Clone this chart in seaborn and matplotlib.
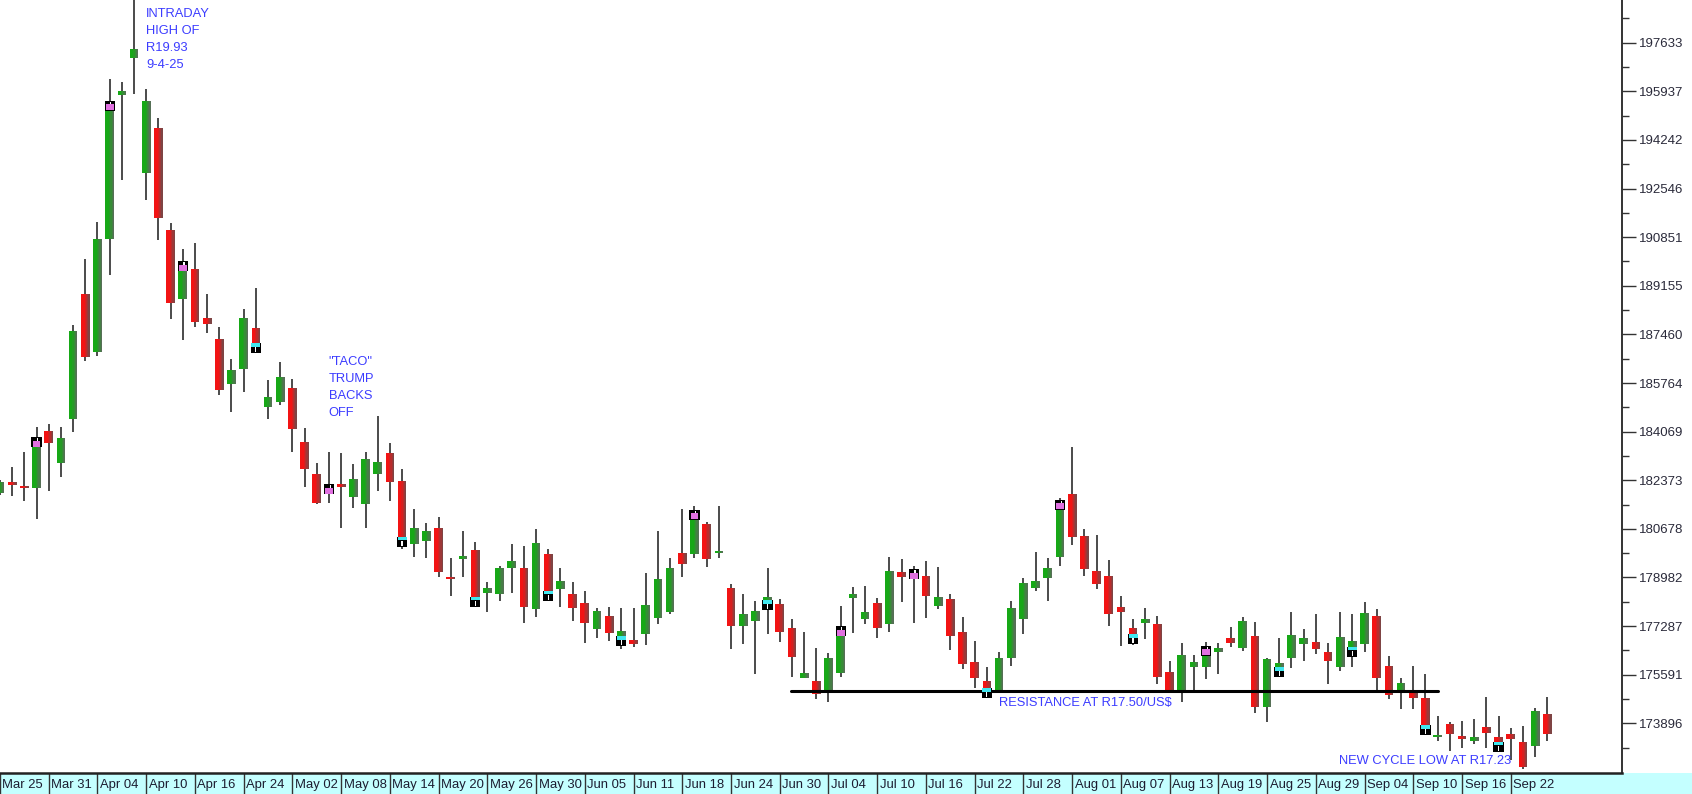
import numpy as np
import matplotlib
matplotlib.use("Agg")
import matplotlib.pyplot as plt
import matplotlib.transforms as mtransforms
from matplotlib.patches import Rectangle
import seaborn as sns

# ---------------- data (USD/ZAR x 10000) ----------------
opens = [181916, 182300, 182172, 182091, 184102, 182986, 184498, 188858, 186856, 190786,
         195809, 197110, 193088, 194647, 191111, 188694, 189730, 188021, 187288, 185729,
         186252, 187672, 184938, 185112, 185590, 183707, 182579, 181916, 182242, 181800,
         181533, 182579, 183311, 182346, 180149, 180265, 180695, 178986, 179614, 179940,
         178428, 178405, 179324, 179300, 177870, 179789, 178579, 178393, 178080, 177173,
         177649, 176940, 176801, 176998, 177556, 177766, 179823, 179800, 180835, 179835,
         178603, 177301, 177475, 178196, 178045, 177208, 175487, 175371, 175034, 175638,
         178277, 177522, 178080, 177347, 179161, 178917, 179033, 177998, 178219, 177068,
         176022, 175371, 175034, 176161, 177522, 178603, 178952, 179707, 181881, 180428,
         179207, 179045, 177940, 177208, 177405, 177347, 175673, 175034, 175871, 175871,
         176371, 176859, 176533, 176940, 174476, 175847, 176185, 176650, 176719, 176371,
         175871, 176568, 176650, 177638, 175905, 174964, 175022, 174766, 173429, 173859,
         173452, 173290, 173755, 173406, 173511, 173232, 173115, 174208]
highs = [182381, 182823, 183369, 184218, 184323, 184230, 187776, 190078, 191390, 196356,
         196273, 199300, 196007, 195007, 191334, 190427, 190636, 188858, 187717, 186591,
         188335, 189077, 185858, 186497, 185893, 184183, 182962, 183369, 183311, 182928,
         183369, 184625, 183683, 182753, 181358, 180870, 181102, 179649, 180614, 180207,
         178824, 179393, 180137, 180079, 180661, 179963, 179300, 178824, 178521, 177905,
         177940, 177905, 177905, 179126, 180614, 179649, 181358, 181474, 180900, 181486,
         178742, 178393, 178173, 179300, 178219, 177522, 177068, 176510, 176336, 177987,
         178638, 178696, 178254, 179684, 179614, 179382, 179556, 179335, 178393, 177591,
         176766, 175847, 176371, 178173, 178975, 179858, 179649, 181742, 183521, 180661,
         180463, 179591, 178335, 177522, 177905, 177638, 176068, 176684, 176278, 176719,
         176684, 177243, 177591, 177417, 176161, 176859, 177766, 177173, 177696, 176684,
         177766, 177696, 178114, 177870, 176243, 175464, 175905, 175603, 174162, 173952,
         173987, 174034, 174801, 174162, 173720, 173813, 174417, 174801]
lows = [181858, 181835, 181660, 181009, 182009, 182497, 184066, 186542, 186716, 189520,
        192834, 195833, 192136, 190741, 187996, 187264, 187728, 187518, 185346, 184763,
        185461, 186856, 184509, 184997, 183368, 182149, 181544, 181567, 180719, 181393,
        180719, 182009, 181660, 179963, 179707, 179649, 179010, 178335, 178986, 177998,
        177777, 178173, 178428, 177382, 177591, 178254, 177952, 177475, 176684, 176859,
        176777, 176475, 176568, 176626, 177347, 177696, 179010, 179649, 179358, 179649,
        176475, 176650, 175603, 176998, 176743, 175522, 175487, 174743, 174650, 175522,
        177033, 177347, 176859, 177068, 178138, 177382, 177556, 177870, 176452, 175778,
        175115, 174882, 174941, 175905, 176998, 178521, 178173, 179393, 180114, 179045,
        178568, 177301, 176603, 176626, 176824, 175254, 174941, 174650, 175034, 175429,
        175603, 176568, 176429, 174266, 173952, 175603, 175836, 176080, 176301, 175254,
        175731, 175871, 176394, 175034, 174731, 174383, 174383, 173545, 173290, 172941,
        173022, 173162, 173022, 172987, 172615, 172300, 172732, 173290]
closes = [182323, 182207, 182114, 183834, 183672, 183834, 187578, 186681, 190776, 195575,
          195959, 197403, 195610, 191529, 188565, 189984, 187902, 187822, 185520, 186218,
          188021, 187149, 185286, 185973, 184149, 182753, 181567, 182207, 182149, 182404,
          183102, 183021, 182323, 180405, 180695, 180602, 179172, 178917, 179742, 178312,
          178603, 179300, 179568, 177952, 180172, 178521, 178858, 177905, 177382, 177824,
          177033, 177126, 176661, 178021, 178917, 179300, 179440, 181312, 179614, 179905,
          177301, 177696, 177824, 178312, 177091, 176219, 175638, 174917, 176161, 177242,
          178393, 177766, 177208, 179219, 179010, 179242, 178347, 178289, 176952, 175952,
          175487, 175115, 176161, 177905, 178777, 178858, 179300, 181660, 180405, 179265,
          178742, 177696, 177789, 177010, 177522, 175522, 174999, 176278, 176022, 176568,
          176510, 176708, 177475, 174476, 176126, 175987, 176975, 176859, 176487, 176080,
          176894, 176766, 177731, 175487, 174882, 175289, 174766, 173836, 173499, 173522,
          173348, 173406, 173569, 173255, 173336, 172360, 174324, 173511]

date_labels = ["Mar 25", "Mar 31", "Apr 04", "Apr 10", "Apr 16", "Apr 24", "May 02", "May 08",
               "May 14", "May 20", "May 26", "May 30", "Jun 05", "Jun 11", "Jun 18", "Jun 24",
               "Jun 30", "Jul 04", "Jul 10", "Jul 16", "Jul 22", "Jul 28", "Aug 01", "Aug 07",
               "Aug 13", "Aug 19", "Aug 25", "Aug 29", "Sep 04", "Sep 10", "Sep 16", "Sep 22"]

y_ticks = [173896, 175591, 177287, 178982, 180678, 182373, 184069, 185764,
           187460, 189155, 190851, 192546, 194242, 195937, 197633]

top_marker_idx = [3, 9, 15, 27, 57, 69, 75, 87, 99]
bottom_marker_idx = [21, 33, 39, 45, 51, 63, 81, 93, 105, 111, 117, 123]

resistance_level = 175032
annotations = [
    ("INTRADAY\nHIGH OF\nR19.93\n9-4-25", 12.0, 198850, "top"),
    ('"TACO"\nTRUMP\nBACKS\nOFF', 26.98, 186700, "top"),
    ("RESISTANCE AT R17.50/US$", 81.97, 174614, "center"),
    ("NEW CYCLE LOW AT R17.23", 109.94, 172581, "center"),
]

# ---------------- styling ----------------
sns.set_theme(style="white")
plt.rcParams['font.family'] = ['Liberation Sans', 'DejaVu Sans']

W, H = 1692, 794
fig = plt.figure(figsize=(W / 100, H / 100), dpi=100)
ax = fig.add_axes([0, 21 / H, 1622 / W, 773 / H])

o = np.array(opens, float)
h = np.array(highs, float)
l = np.array(lows, float)
c = np.array(closes, float)
n = len(o)
idx = np.arange(n)

ymin, ymax = 172163, 199122
ax.set_xlim(0.1, 133.13)
ax.set_ylim(ymin, ymax)
upp = (ymax - ymin) / 773.0  # value units per pixel

# wicks
ax.vlines(idx, l, h, color="#1a1a1a", lw=1.1, zorder=1)

# bodies with horizontal gradient
up = c >= o
body_bot = np.minimum(o, c)
body_top = np.maximum(o, c)
body_h = np.maximum(body_top - body_bot, 2.2 * upp)
body_bot = np.where(body_top - body_bot < 2.2 * upp, (o + c) / 2 - 1.1 * upp, body_bot)

bw = 0.71
nstrip = 7
green = np.array([0.09, 0.66, 0.09])
red = np.array([0.95, 0.08, 0.08])
g_end = np.array([0.38, 0.40, 0.38])
r_end = np.array([0.42, 0.30, 0.30])
for k in range(nstrip):
    t = k / (nstrip - 1)
    t = max(0.0, (t - 0.35) / 0.65) * 0.85
    gc = green * (1 - t) + g_end * t
    rc = red * (1 - t) + r_end * t
    cols = [tuple(gc) if u else tuple(rc) for u in up]
    ax.bar(idx - bw / 2 + k * bw / nstrip, body_h, width=bw / nstrip + 0.005,
           bottom=body_bot, align="edge", color=cols, linewidth=0, zorder=2)

# signal markers
mw = 0.84
for i in top_marker_idx:
    top = body_top[i]
    ax.add_patch(Rectangle((i - mw / 2, top - 9 * upp), mw, 10 * upp, facecolor="black",
                           linewidth=0, zorder=4))
    ax.add_patch(Rectangle((i - mw / 2 + 0.1, top - 8.5 * upp), mw - 0.2, 6 * upp,
                           facecolor="#e070e0", linewidth=0, zorder=5))
    ax.add_patch(Rectangle((i + 0.05, top - 2.5 * upp), 0.1, 2.5 * upp,
                           facecolor="white", linewidth=0, zorder=5))
for i in bottom_marker_idx:
    bot = body_bot[i]
    ax.add_patch(Rectangle((i - mw / 2, bot - 10 * upp), mw, 10 * upp, facecolor="black",
                           linewidth=0, zorder=4))
    ax.add_patch(Rectangle((i - mw / 2 + 0.05, bot - 3.5 * upp), mw - 0.1, 3.5 * upp,
                           facecolor="#40e8f0", linewidth=0, zorder=5))
    ax.add_patch(Rectangle((i - 0.05, bot - 9 * upp), 0.1, 5 * upp,
                           facecolor="white", linewidth=0, zorder=5))

# resistance line
sns.lineplot(x=[64.9, 118.0], y=[resistance_level, resistance_level], ax=ax,
             color="black", lw=2.2, zorder=3)

# annotations
for txt, x, y, va in annotations:
    ax.text(x, y, txt, color="#3c3cff", fontsize=9.3, va=va, ha="left",
            linespacing=1.56, zorder=6)

# y axis on right
ax.yaxis.tick_right()
ax.set_yticks(y_ticks)
ax.set_yticklabels([str(v) for v in y_ticks])
mids = [(a + b) / 2 for a, b in zip(y_ticks[:-1], y_ticks[1:])]
mids = mids + [y_ticks[-1] + (y_ticks[1] - y_ticks[0]) / 2, y_ticks[0] - (y_ticks[1] - y_ticks[0]) / 2]
ax.set_yticks(mids, minor=True)
ax.tick_params(axis="y", which="major", right=True, left=False, length=10, width=1,
               color="#333333", pad=2, labelsize=9.5, labelcolor="#2a2a3a")
ax.tick_params(axis="y", which="minor", right=True, left=False, length=5, width=1,
               color="#333333")

# x axis date labels
ax.set_xticks(np.arange(0, 4 * len(date_labels), 4))
ax.set_xticklabels(date_labels, ha="left")
ax.tick_params(axis="x", which="major", bottom=True, direction="out", length=15.3, width=1,
               color="#333333", pad=-11.0, labelsize=9.4, labelcolor="#1c1c30")
offset = mtransforms.ScaledTranslation(2.5 / 100, 0, fig.dpi_scale_trans)
for lab in ax.get_xticklabels():
    lab.set_transform(lab.get_transform() + offset)

for side in ["top", "left"]:
    ax.spines[side].set_visible(False)
ax.spines["right"].set_color("#333333")
ax.spines["right"].set_linewidth(1.4)
ax.spines["bottom"].set_color("#222222")
ax.spines["bottom"].set_linewidth(1.8)
ax.set_xlabel("")
ax.set_ylabel("")
ax.grid(False)

fig.patches.append(Rectangle((0, 0), 1, 21 / H, transform=fig.transFigure,
                             facecolor="#c4ffff", edgecolor="none", zorder=-1))

fig.savefig("out.png", dpi=100)
